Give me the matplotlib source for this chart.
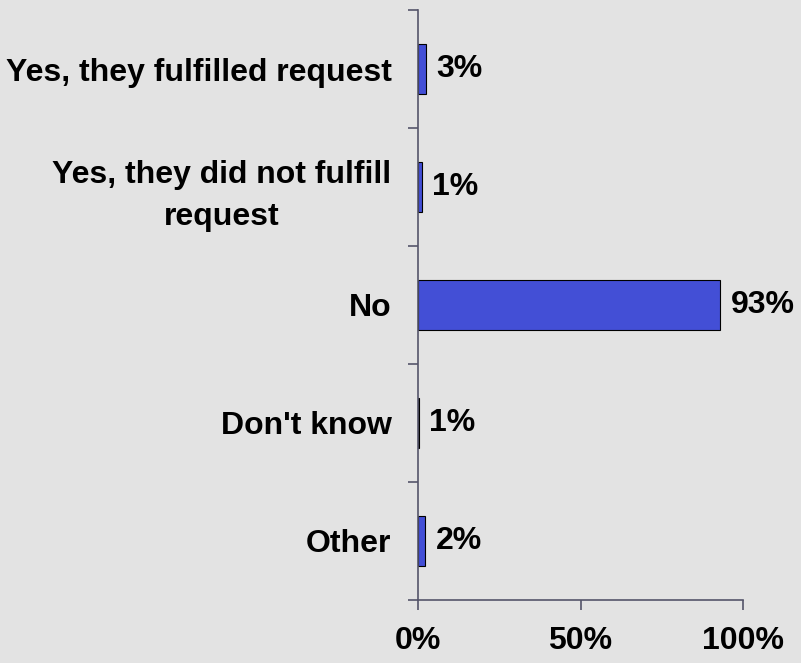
import matplotlib.pyplot as plt
import matplotlib.ticker as mticker

categories = ["Yes, they fulfilled request", "Yes, they did not fulfill\nrequest",
              "No", "Don't know", "Other"]
values = [2.5, 1.2, 93, 0.2, 2.2]
labels = ["3%", "1%", "93%", "1%", "2%"]
xticks = [0, 50, 100]

BG = "#E3E3E3"
BAR = "#434FD6"
AXIS = "#55556A"

plt.rcParams.update({
    "font.family": ["Liberation Sans", "DejaVu Sans"],
    "font.weight": "bold",
})

fig = plt.figure(figsize=(8.01, 6.63), dpi=100, facecolor=BG)
ax = fig.add_axes([418 / 801, 1 - 600 / 663, 325 / 801, 590 / 663])
ax.set_facecolor(BG)

pos = list(range(len(categories)))
ax.barh(pos, values, height=0.42, color=BAR, edgecolor="black", linewidth=0.8, zorder=2)

for p, v, lab in zip(pos, values, labels):
    ax.text(v + 3.2, p, lab, va="center", ha="left", fontsize=23, fontweight="bold")

ax.set_xlim(0, 100)
ax.set_ylim(4.5, -0.5)
ax.set_xticks(xticks)
ax.xaxis.set_major_formatter(mticker.FuncFormatter(lambda x, _: f"{int(x)}%"))
ax.tick_params(axis="x", length=7, width=1.2, color=AXIS, pad=12, labelsize=23)

ax.set_yticks([i - 0.5 for i in range(len(categories) + 1)])
ax.set_yticklabels([])
ax.set_yticks(pos, minor=True)
ax.set_yticklabels(categories, minor=True, fontsize=23, fontweight="bold",
                   multialignment="center", linespacing=1.5)
ax.tick_params(axis="y", which="major", length=7, width=1.2, color=AXIS)
ax.tick_params(axis="y", which="minor", length=0, pad=19)

for s in ["top", "right"]:
    ax.spines[s].set_visible(False)
for s in ["left", "bottom"]:
    ax.spines[s].set_color(AXIS)
    ax.spines[s].set_linewidth(1.2)

fig.savefig("out.png", dpi=100, facecolor=BG)
